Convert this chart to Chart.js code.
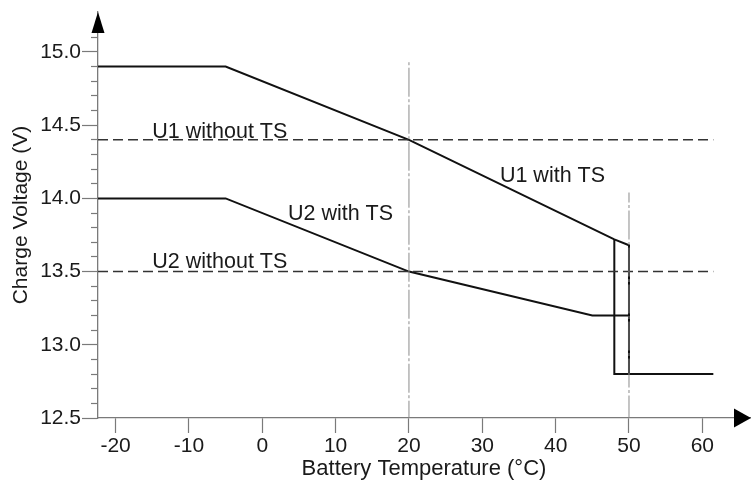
<!DOCTYPE html>
<html><head><meta charset="utf-8">
<script src="https://cdn.jsdelivr.net/npm/chart.js@4.4.0/dist/chart.umd.min.js"></script>
<style>html,body{margin:0;padding:0;background:#fff;overflow:hidden}</style>
</head><body>
<canvas id="c" width="752" height="482"></canvas>
<script>
// ---- data ----
const X_MIN = -22.4, X_MAX = 66.5, Y_MIN = 12.5, Y_MAX = 15.273;
const xTickValues = [-20, -10, 0, 10, 20, 30, 40, 50, 60];
const yMajorTickValues = [12.5, 13.0, 13.5, 14.0, 14.5, 15.0];
const u1WithTemp = [-22.4, -5, 20, 48, 50, 50];
const u1WithVolt = [14.9, 14.9, 14.4, 13.72, 13.68, 12.8];
const u2WithTemp = [-22.4, -5, 20, 45, 50];
const u2WithVolt = [14.0, 14.0, 13.5, 13.2, 13.2];
const cutoffTemp = [48, 48, 61.5];
const cutoffVolt = [13.72, 12.8, 12.8];
const u1WithoutTemp = [-22.4, 61.5];
const u1WithoutVolt = [14.4, 14.4];
const u2WithoutTemp = [-22.4, 61.5];
const u2WithoutVolt = [13.5, 13.5];
const marker20Temp = [20, 20];
const marker20Volt = [14.93, 12.5];
const marker50Temp = [50, 50];
const marker50Volt = [14.04, 12.5];
const labelTexts = ['U1 without TS', 'U2 without TS', 'U2 with TS', 'U1 with TS'];
const labelTemp = [-15, -15, 3.5, 32.4];
const labelVolt = [14.415, 13.527, 13.855, 14.115];

const pts = (xs, ys) => xs.map((x, i) => ({x: x, y: ys[i]}));
const FONT = '"Liberation Sans", Arial, Helvetica, sans-serif';
const TXT = '#1a1a1a';
const AXIS = '#7a7a7a';
Chart.defaults.font.family = FONT;

function line(data, opts) {
  return Object.assign({data: data, showLine: true, pointRadius: 0, pointHoverRadius: 0,
    borderColor: '#111', borderWidth: 2, fill: false, tension: 0}, opts || {});
}

const zeroPad = s => { s.paddingTop = 0; s.paddingBottom = 0; s.paddingLeft = 0; s.paddingRight = 0; };

const decorPlugin = {
  id: 'decor',
  afterDraw(chart) {
    const ctx = chart.ctx, a = chart.chartArea;
    const sx = chart.scales.x, sy = chart.scales.y;
    ctx.save();
    ctx.fillStyle = '#000';
    // y-axis arrow
    ctx.beginPath();
    ctx.moveTo(a.left, a.top);
    ctx.lineTo(a.left - 6.5, a.top + 21);
    ctx.lineTo(a.left + 6.5, a.top + 21);
    ctx.closePath(); ctx.fill();
    // x-axis arrow
    ctx.beginPath();
    ctx.moveTo(a.right + 1, a.bottom);
    ctx.lineTo(a.right - 16, a.bottom - 9.5);
    ctx.lineTo(a.right - 16, a.bottom + 9.5);
    ctx.closePath(); ctx.fill();
    // annotations
    ctx.font = '21.5px ' + FONT;
    ctx.fillStyle = TXT;
    ctx.textAlign = 'left';
    ctx.textBaseline = 'alphabetic';
    labelTexts.forEach((t, i) => {
      ctx.fillText(t, sx.getPixelForValue(labelTemp[i]), sy.getPixelForValue(labelVolt[i]));
    });
    ctx.restore();
  }
};

new Chart(document.getElementById('c'), {
  type: 'scatter',
  data: {
    datasets: [
      line(pts(marker20Temp, marker20Volt), {borderColor: '#8a8a8a', borderWidth: 1, borderDash: [3, 2.5, 29, 2.5], borderDashOffset: 0}),
      line(pts(marker50Temp, marker50Volt), {borderColor: '#8a8a8a', borderWidth: 1, borderDash: [3, 2.5, 29, 2.5], borderDashOffset: 24.5}),
      line(pts(u1WithoutTemp, u1WithoutVolt), {borderColor: '#333', borderWidth: 1.5, borderDash: [10, 5]}),
      line(pts(u2WithoutTemp, u2WithoutVolt), {borderColor: '#333', borderWidth: 1.5, borderDash: [10, 5]}),
      line(pts(u1WithTemp, u1WithVolt)),
      line(pts(u2WithTemp, u2WithVolt)),
      line(pts(cutoffTemp, cutoffVolt))
    ]
  },
  options: {
    responsive: false,
    animation: false,
    devicePixelRatio: 1,
    layout: {padding: {top: 12, right: 2, bottom: 0, left: 0}},
    plugins: {legend: {display: false}, tooltip: {enabled: false}},
    events: [],
    scales: {
      x: {
        type: 'linear', position: 'bottom', min: X_MIN, max: X_MAX,
        afterBuildTicks: s => { s.ticks = xTickValues.map(v => ({value: v})); },
        afterFit: s => { s.height = 64; zeroPad(s); },
        grid: {display: true, drawOnChartArea: false, drawTicks: true, tickLength: 15, tickColor: AXIS, tickWidth: 1.2},
        border: {display: true, color: AXIS, width: 1.3},
        ticks: {font: {size: 21}, color: TXT, padding: 1, maxRotation: 0, autoSkip: false},
        title: {display: true, text: 'Battery Temperature (°C)', font: {size: 22}, color: TXT, padding: {top: 0, bottom: 0}}
      },
      y: {
        type: 'linear', position: 'left', weight: 0, min: Y_MIN, max: Y_MAX,
        ticks: {display: false, stepSize: 0.1},
        afterBuildTicks: s => { s.ticks = s.ticks.filter(t => t.value <= 15.15 && t.value >= 12.45); },
        afterFit: s => { s.width = 7; zeroPad(s); },
        grid: {display: true, drawOnChartArea: false, drawTicks: true, tickLength: 7, tickColor: AXIS, tickWidth: 1.2},
        border: {display: true, color: AXIS, width: 1.3}
      },
      yLabels: {
        type: 'linear', position: 'left', weight: 1, min: Y_MIN, max: Y_MAX,
        afterBuildTicks: s => { s.ticks = yMajorTickValues.map(v => ({value: v})); },
        afterFit: s => { s.width = 91; zeroPad(s); },
        grid: {display: true, drawOnChartArea: false, drawTicks: true, tickLength: 9, tickColor: AXIS, tickWidth: 1.2},
        border: {display: false},
        ticks: {font: {size: 21}, color: TXT, padding: 1, callback: v => Number(v).toFixed(1)},
        title: {display: true, text: 'Charge Voltage (V)', font: {size: 21}, color: TXT, padding: {top: 9, bottom: 0}}
      }
    }
  },
  plugins: [decorPlugin]
});
</script>
</body></html>
